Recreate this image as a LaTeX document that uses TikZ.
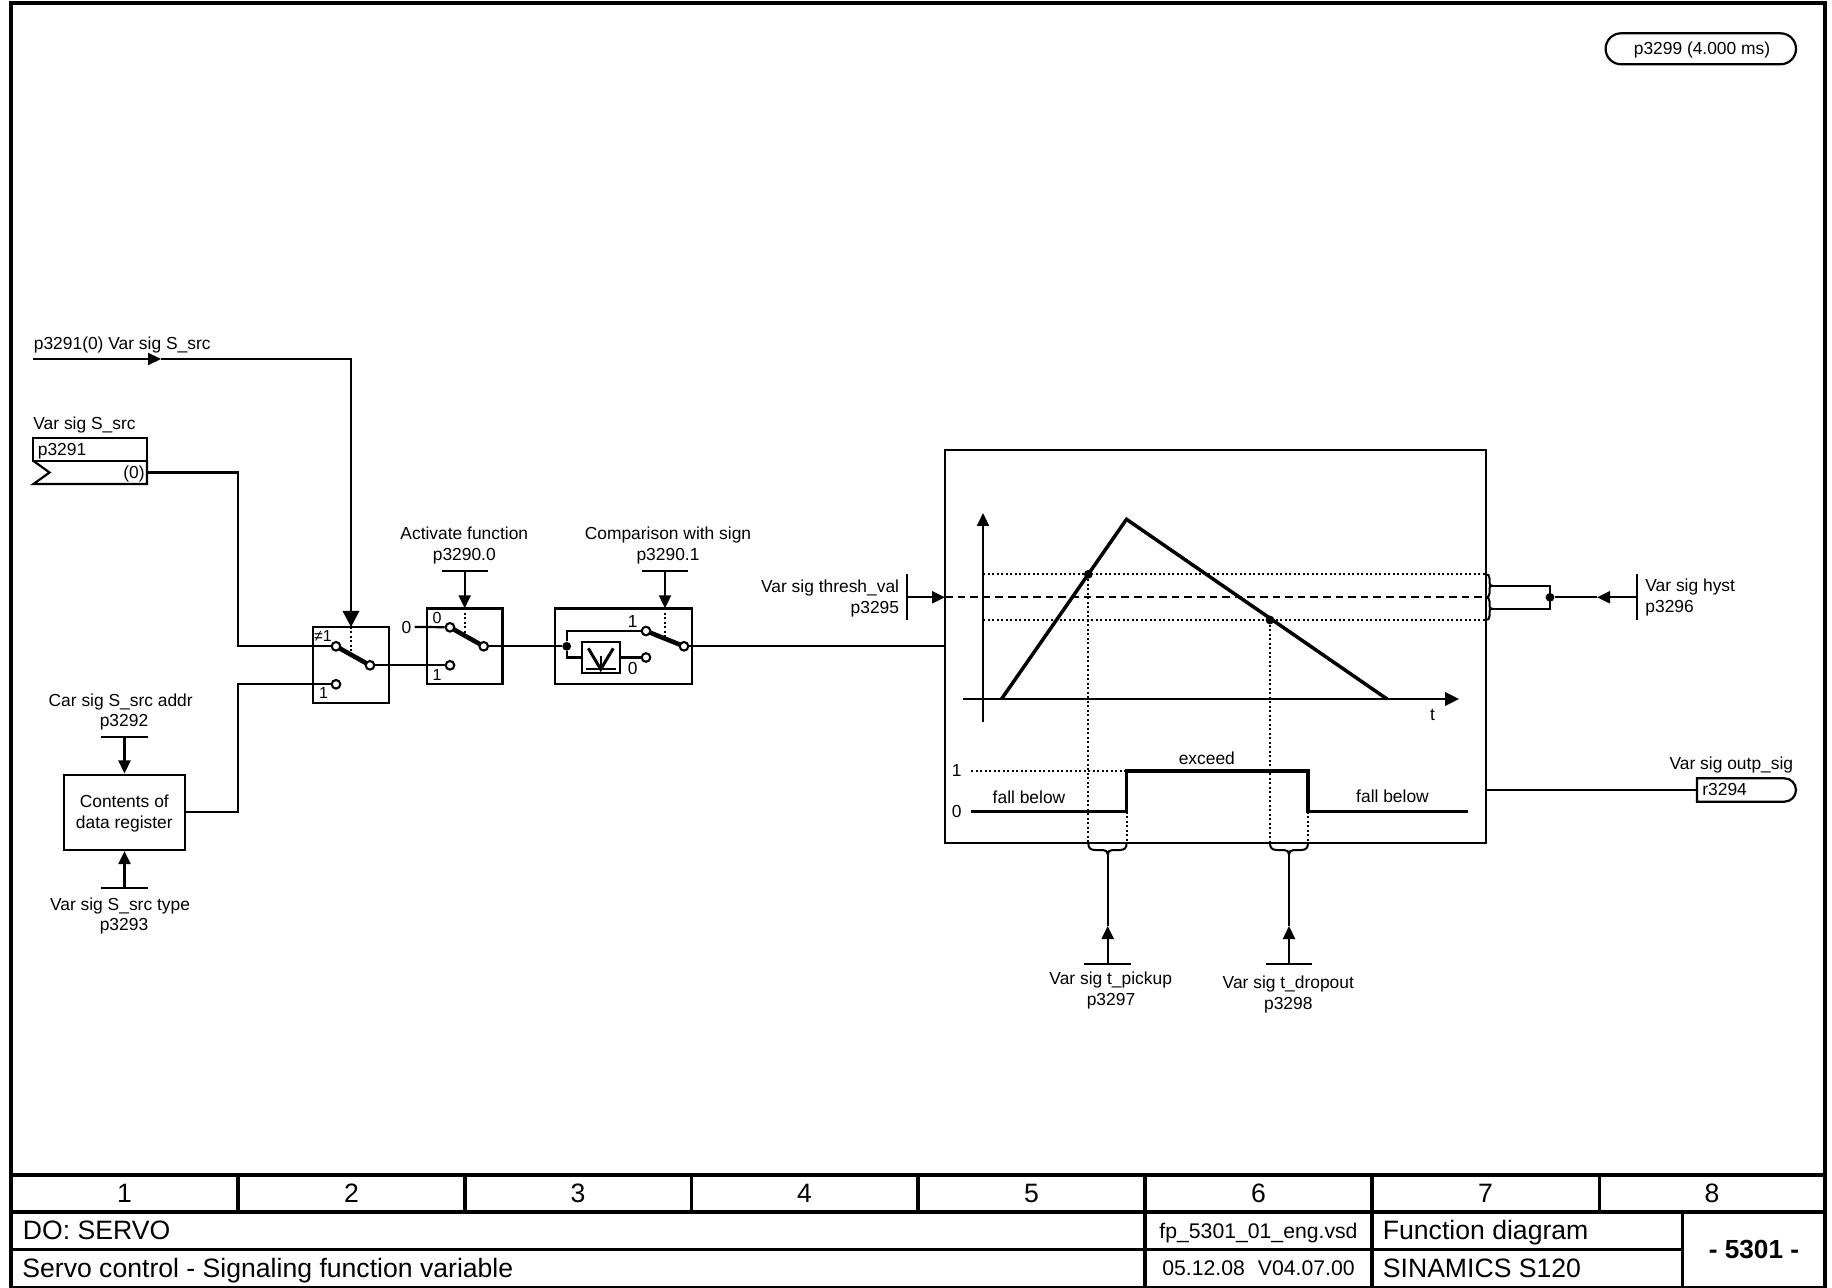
\documentclass[tikz,border=0pt]{standalone}
\usepackage{fontspec}
\setmainfont{Liberation Sans}
\usetikzlibrary{arrows.meta,shapes.misc}
\tikzset{
  lab/.style={inner sep=0pt,yshift=.05pt,font=\fontsize{8.7pt}{10pt}\selectfont,text height=6.2pt,text depth=0pt},
  tiny/.style={inner sep=0pt,yshift=.3pt,font=\fontsize{8pt}{9pt}\selectfont,text height=5.7pt,text depth=0pt},
  big/.style={inner sep=0pt,yshift=.5pt,font=\fontsize{13.3pt}{15pt}\selectfont,text height=9.5pt,text depth=0pt},
  med/.style={inner sep=0pt,yshift=.5pt,font=\fontsize{10.6pt}{12pt}\selectfont,text height=7.6pt,text depth=0pt},
  conn/.style={line width=1.1pt},
  frameline/.style={line width=1.8pt},
  box/.style={draw,line width=1.1pt,rectangle,inner sep=0pt},
  contact/.style={draw,line width=1.05pt,circle,inner sep=0pt,minimum size=4.3pt,fill=white},
  blade/.style={line width=2.3pt,shorten >=-.4pt,shorten <=-.4pt},
  fdot/.style={fill,circle,inner sep=0pt,minimum size=4.4pt},
  dots/.style={line width=1pt,dash pattern=on 1pt off 1.25pt},
  dash2/.style={line width=1pt,dash pattern=on 3.8pt off 2.5pt},
  curve/.style={line width=1.75pt,line join=miter},
  tipA/.style={-{Triangle[length=6.5pt,width=6pt]}},
  tipB/.style={-{Triangle[length=8pt,width=8.2pt]}},
}
\begin{document}
\begin{tikzpicture}[x=.5pt,y=-.5pt]
\useasboundingbox (0,0) rectangle (1832,1288);
% frame and title block
\draw[frameline] (11,3) rectangle (1825,1288);
\draw[frameline] (11,1175) -- (1825,1175);
\draw[frameline] (11,1212) -- (1825,1212);
\draw[frameline] (11,1249.5) -- (1682.5,1249.5);
\foreach \x in {238,465,691.5,918}{\draw[frameline] (\x,1175) -- (\x,1212);}
\draw[frameline] (1145,1175) -- (1145,1288);
\draw[frameline] (1372,1175) -- (1372,1288);
\draw[frameline] (1599.5,1175) -- (1599.5,1212);
\draw[frameline] (1682.5,1212) -- (1682.5,1288);
\node[big] (n1) at (124.5,1193.5) {1};
\node[big] (n2) at (351.5,1193.5) {2};
\node[big] (n3) at (578,1193.5) {3};
\node[big] (n4) at (804.5,1193.5) {4};
\node[big] (n5) at (1031.5,1193.5) {5};
\node[big] (n6) at (1258.5,1193.5) {6};
\node[big] (n7) at (1485.5,1193.5) {7};
\node[big] (n8) at (1712,1193.5) {8};
\node[big,anchor=west] (do) at (22.5,1231) {DO: SERVO};
\node[big,anchor=west] (title) at (22,1268.5) {Servo control - Signaling function variable};
\node[med] (file) at (1258.5,1231.5) {fp\_5301\_01\_eng.vsd};
\node[med] (date) at (1258.5,1269) {05.12.08\hspace{.62em}V04.07.00};
\node[big,anchor=west] (fd) at (1382.5,1231) {Function diagram};
\node[big,anchor=west] (sin) at (1382.5,1269) {SINAMICS S120};
\node[big,font=\fontsize{13.1pt}{15pt}\selectfont\bfseries] (num) at (1754,1250) {- 5301 -};
% pill
\node[draw,line width=1.1pt,rounded rectangle,minimum width=95.2pt,minimum height=15.5pt,inner sep=0pt] (pill) at (1700.8,48.8) {};
\node[lab] (pilltxt) at (1702,48.5) {p3299 (4.000 ms)};
% p3291(0)
\node[lab,anchor=west] (l1) at (33.5,343.5) {p3291(0) Var sig S\_src};
\coordinate (a0) at (33,359);
\coordinate (a1) at (161,359);
\coordinate (a2) at (351,359);
% switch 1
\node[box,minimum width=38pt,minimum height=37.8pt] (sw1) at (351,665) {};
\node[contact] (s1a) at (336,646.3) {};
\node[contact] (s1b) at (336,684.3) {};
\node[contact] (s1o) at (370,665.3) {};
\coordinate (s1t) at (351,627);
\coordinate (s1d) at (351,654);
\draw[blade] (s1a) -- (s1o);
\draw[dots] (s1t) -- (s1d);
\node[tiny] (s1n) at (323,636.5) {≠1};
\node[tiny] (s1one) at (323.5,693) {1};
\draw[conn,tipA] (a0) -- (a1);
\draw[conn] (a1) -- (a2) -- ++(0,240);
\draw[conn,tipB] (a2) -- (s1t);
% parameter box p3291
\node[lab,anchor=west] (l2) at (33,423) {Var sig S\_src};
\node[box,minimum width=57pt,minimum height=11.5pt] (pb) at (90.3,449.5) {};
\node[lab,anchor=west] (pbt) at (37.5,449.5) {p3291};
\draw[line width=1.1pt] (33.5,461) -- (49.5,472.5) -- (33.5,484) -- (147,484) -- (147,461);
\node[lab,anchor=east] (pbz) at (145,472.5) {(0)};
\coordinate (pbo) at (147,472.5);
\coordinate (j1) at (238,472.5);
\coordinate (j2) at (238,646.3);
\draw[conn] (pbo) -- (j1) -- (j2) -- (s1a);
% contents box
\node[box,minimum width=60.5pt,minimum height=37.7pt] (reg) at (124.5,812.3) {};
\node[lab] (regt1) at (124.3,801) {Contents of};
\node[lab] (regt2) at (124.3,822) {data register};
\coordinate (j3) at (238,812.3);
\coordinate (j4) at (238,684.3);
\draw[conn] (reg.east) -- (j3) -- (j4) -- (s1b);
\node[lab] (cl1) at (120.7,700.5) {Car sig S\_src addr};
\node[lab] (cl2) at (124,720.5) {p3292};
\coordinate (barA) at (124.5,737);
\draw[conn] (101.3,737) -- (147.7,737);
\draw[conn,tipA] (barA) -- (reg.north);
\coordinate (barB) at (124.5,888.3);
\draw[conn] (101.3,888.3) -- (147.7,888.3);
\draw[conn,tipA] (barB) -- (reg.south);
\node[lab] (cl3) at (120,904) {Var sig S\_src type};
\node[lab] (cl4) at (124,924) {p3293};
% switch 2
\node[box,minimum width=37.7pt,minimum height=37.7pt] (sw2) at (464.7,646.2) {};
\node[contact] (s2a) at (450,627.3) {};
\node[contact] (s2b) at (450,665.3) {};
\node[contact] (s2o) at (483.7,646.3) {};
\coordinate (s2t) at (464.7,608.3);
\coordinate (s2d) at (464.7,636);
\draw[blade] (s2a) -- (s2o);
\draw[dots] (s2t) -- (s2d);
\draw[conn] (s1o) -- (s2b);
\node[lab] (zero) at (406.5,627) {0};
\draw[conn] (zero.east) ++(3,0) -- (s2a);
\node[tiny] (s20) at (437,618) {0};
\node[tiny] (s21) at (437,675) {1};
\node[lab] (sl1) at (464.3,533) {Activate function};
\node[lab] (sl2) at (464.3,554) {p3290.0};
\coordinate (barC) at (464.7,571);
\draw[conn] (441.7,571) -- (487.7,571);
\draw[conn,tipA] (barC) -- (s2t);
% switch 3
\node[box,minimum width=68.2pt,minimum height=37.7pt] (sw3) at (623.5,646.2) {};
\node[contact] (s3a) at (646,631) {};
\node[contact] (s3b) at (646,657.5) {};
\node[contact] (s3o) at (684,646.3) {};
\node[box,minimum width=19.2pt,minimum height=15.2pt] (sgn) at (600.8,657.5) {};
\coordinate (s3t) at (665,608.3);
\coordinate (s3d) at (665,638);
\draw[blade] (s3a) -- (s3o);
\draw[dots] (s3t) -- (s3d);
\node[fdot] (s3j) at (566.7,646.3) {};
\coordinate (s3u) at (566.7,631);
\coordinate (s3l) at (566.7,657.5);
\draw[conn] (s2o) -- (s3j);
\draw[conn] (s3j) -- (s3u) -- (s3a);
\draw[conn] (s3j) -- (s3l) -- (sgn.west);
\draw[conn] (sgn.east) -- (s3b);
\draw[line width=1.5pt] (588.3,648.3) -- (600.7,669.3) -- (613.3,648.3);
\draw[line width=1.1pt] (600.7,656) -- (600.7,669.3);
\draw[line width=1.1pt] (585.7,669.3) -- (616.3,669.3);
\node[lab] (s31) at (632.7,621.5) {1};
\node[lab] (s30) at (632.7,668) {0};
\node[lab] (sl3) at (668,533) {Comparison with sign};
\node[lab] (sl4) at (668,554) {p3290.1};
\coordinate (barD) at (665,571);
\draw[conn] (642,571) -- (688,571);
\draw[conn,tipA] (barD) -- (s3t);
% big box
\node[box,minimum width=270.5pt,minimum height=196.3pt] (bb) at (1215.2,646.5) {};
\coordinate (bbin) at (944.8,646.3);
\draw[conn] (s3o) -- (bbin);
% threshold input
\coordinate (barE) at (906.7,597.3);
\coordinate (bbth) at (945,597.3);
\draw[conn] (906.7,574) -- (906.7,620.5);
\draw[conn,tipA] (barE) -- (bbth);
\node[lab,anchor=east] (th1) at (899.5,586) {Var sig thresh\_val};
\node[lab,anchor=east] (th2) at (899.5,607) {p3295};
% graph
\coordinate (yb) at (983,722.3);
\coordinate (yt) at (983,513);
\coordinate (xl) at (963,699);
\coordinate (xr) at (1459,699);
\draw[conn,tipA] (yb) -- (yt);
\draw[conn,-{Triangle[length=7pt,width=6.8pt]}] (xl) -- (xr);
\node[lab] (tt) at (1432.5,714) {t};
\draw[dots] (983,574.3) -- (1486,574.3);
\draw[dots] (983,620) -- (1486,620);
\draw[dash2] (945,597.3) -- (1486,597.3);
\node[fdot] (p1) at (1088.3,574.3) {};
\node[fdot] (p2) at (1270,620) {};
\draw[dots] (p1) -- (1088.3,843);
\draw[dots] (p2) -- (1270,843);
\draw[dots] (1126.6,811.5) -- (1126.6,843);
\draw[dots] (1308,811.5) -- (1308,843);
\draw[dots] (971,771) -- (1126.6,771);
\coordinate (t1) at (1001.5,699);
\coordinate (t2) at (1126.5,519.3);
\coordinate (t3) at (1387,699);
\draw[curve] (t1) -- (t2) -- (t3);
\coordinate (q0) at (971,811.5);
\coordinate (q1) at (1126.6,811.5);
\coordinate (q2) at (1126.6,771);
\coordinate (q3) at (1308,771);
\coordinate (q4) at (1308,811.5);
\coordinate (q5) at (1467.5,811.5);
\draw[curve] (q0) -- (q1) -- (q2) -- (q3) -- (q4) -- (q5);
\node[lab] (g1) at (956.8,770) {1};
\node[lab] (g0) at (956.8,811) {0};
\node[lab] (ex) at (1206.8,758) {exceed};
\node[lab] (fb1) at (1029,797) {fall below};
\node[lab] (fb2) at (1392.5,796) {fall below};
% bottom braces
\foreach \a/\t/\b in {1088.3/1107.7/1126.6,1270/1289/1308}{
  \draw[line width=1pt] (\a,843) .. controls (\a,848) and (\a+2,850) .. (\a+7,850) -- (\t-5,850)
    .. controls (\t-2,850) and (\t,851.5) .. (\t,854.3)
    .. controls (\t,851.5) and (\t+2,850) .. (\t+5,850) -- (\b-7,850)
    .. controls (\b-2,850) and (\b,848) .. (\b,843);
}
\coordinate (br1) at (1107.7,854);
\coordinate (br2) at (1289,854);
\coordinate (bar1) at (1107.7,964);
\coordinate (bar2) at (1289,964);
\coordinate (m1) at (1107.7,926);
\coordinate (m2) at (1289,926);
\draw[conn] (1084.3,964) -- (1130.7,964);
\draw[conn] (1265.7,964) -- (1312,964);
\draw[conn,tipA] (bar1) -- (m1);
\draw[conn,tipA] (bar2) -- (m2);
\draw[conn] (m1) -- (br1);
\draw[conn] (m2) -- (br2);
\node[lab] (pk1) at (1110.7,978.5) {Var sig t\_pickup};
\node[lab] (pk2) at (1111,999.5) {p3297};
\node[lab] (dr1) at (1288.3,982.5) {Var sig t\_dropout};
\node[lab] (dr2) at (1288.3,1003.5) {p3298};
% right braces
\foreach \a/\t/\b in {574.3/585.7/597.3,597.3/608.7/620}{
  \draw[line width=1pt] (1486,\a) .. controls (1488,\a) and (1489.5,\a+1) .. (1489.5,\a+4) -- (1489.5,\t-3)
    .. controls (1489.5,\t-1) and (1490,\t) .. (1492,\t)
    .. controls (1490,\t) and (1489.5,\t+1) .. (1489.5,\t+3) -- (1489.5,\b-4)
    .. controls (1489.5,\b-1) and (1488,\b) .. (1486,\b);
}
\node[fdot] (hj) at (1550,597.3) {};
\coordinate (h1) at (1491,585.7);
\coordinate (h2) at (1550,585.7);
\coordinate (h3) at (1550,608.7);
\coordinate (h4) at (1491,608.7);
\draw[conn] (h1) -- (h2) -- (h3) -- (h4);
\coordinate (hbar) at (1636.7,597.3);
\coordinate (hm) at (1597,597.3);
\draw[conn] (1636.7,574.3) -- (1636.7,620.3);
\draw[conn,tipA] (hbar) -- (hm);
\draw[conn] (hm) -- (hj);
\node[lab,anchor=west] (hy1) at (1645,585.5) {Var sig hyst};
\node[lab,anchor=west] (hy2) at (1645,606.5) {p3296};
% output
\node[lab,anchor=east] (ou1) at (1793.5,763) {Var sig outp\_sig};
\node[draw,line width=1.1pt,rounded rectangle,rounded rectangle west arc=none,minimum width=49.5pt,minimum height=11.7pt,inner sep=0pt] (ob) at (1746.5,790) {};
\node[lab,anchor=west] (obt) at (1702,789) {r3294};
\coordinate (bbo) at (1486,790);
\draw[conn] (bbo) -- (ob.west);
\end{tikzpicture}
\end{document}
